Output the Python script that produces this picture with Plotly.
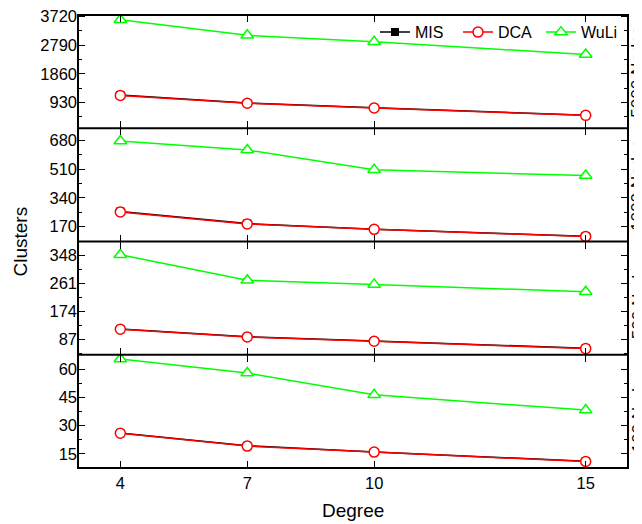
import plotly.graph_objects as go
from plotly.subplots import make_subplots

degrees = [4, 7, 10, 15]
panel_labels = ["5000 Nodes", "1000 Nodes", "500 Nodes", "100 Nodes"]

mis_5000 = [1170, 915, 760, 520]
dca_5000 = [1160, 907, 753, 513]
wuli_5000 = [3608, 3106, 2899, 2482]

mis_1000 = [259, 188, 155, 113]
dca_1000 = [257, 186, 154, 112]
wuli_1000 = [677, 623, 506, 472]

mis_500 = [120, 96, 83, 60]
dca_500 = [119, 95, 82, 59]
wuli_500 = [350, 271, 258, 235]

mis_100 = [26.1, 19.3, 16.0, 11.0]
dca_100 = [25.9, 19.1, 15.9, 10.9]
wuli_100 = [65.3, 57.9, 46.3, 38.2]

yticks_5000 = [930, 1860, 2790, 3720]
yticks_1000 = [170, 340, 510, 680]
yticks_500 = [87, 174, 261, 348]
yticks_100 = [15, 30, 45, 60]

yranges = [[96, 3763], [82, 752], [40, 391], [7.45, 67.6]]

panels = [
    (mis_5000, dca_5000, wuli_5000, yticks_5000),
    (mis_1000, dca_1000, wuli_1000, yticks_1000),
    (mis_500, dca_500, wuli_500, yticks_500),
    (mis_100, dca_100, wuli_100, yticks_100),
]

FONT = "Arial, Liberation Sans, sans-serif"

fig = make_subplots(rows=4, cols=1, shared_xaxes=True, vertical_spacing=0)

for i, (mis, dca, wuli, yt) in enumerate(panels):
    row = i + 1
    show = (i == 0)
    fig.add_trace(go.Scatter(
        x=degrees, y=mis, mode="lines+markers", name="MIS",
        line=dict(color="black", width=1.5),
        marker=dict(symbol="square", size=8, color="black"),
        showlegend=show, legendgroup="MIS"), row=row, col=1)
    fig.add_trace(go.Scatter(
        x=degrees, y=dca, mode="lines+markers", name="DCA",
        line=dict(color="#ff0000", width=1.5),
        marker=dict(symbol="circle", size=10, color="white",
                    line=dict(color="#ff0000", width=1.5)),
        showlegend=show, legendgroup="DCA"), row=row, col=1)
    fig.add_trace(go.Scatter(
        x=degrees, y=wuli, mode="lines+markers", name="WuLi",
        line=dict(color="#00ff00", width=1.5),
        marker=dict(symbol="triangle-up", size=11, color="white",
                    line=dict(color="#00ff00", width=1.5)),
        showlegend=show, legendgroup="WuLi"), row=row, col=1)

    step = yt[1] - yt[0]
    minor_vals = [v - step / 2 for v in yt] + [yt[-1] + step / 2]
    fig.update_yaxes(
        range=yranges[i], tickmode="array", tickvals=yt,
        ticks="inside", ticklen=7, tickwidth=1.3, tickcolor="black",
        showline=False, mirror="ticks",
        showgrid=False, zeroline=False, automargin=False,
        ticklabeloverflow="allow",
        tickfont=dict(family=FONT, size=16.5, color="black"),
        minor=dict(tickmode="array", tickvals=minor_vals, ticks="inside",
                   ticklen=4, tickwidth=1.3, tickcolor="black", showgrid=False),
        row=row, col=1)
    fig.update_xaxes(
        range=[3, 16], tickmode="array", tickvals=degrees,
        ticks="inside", ticklen=7, tickwidth=1.3, tickcolor="black",
        showline=False, mirror="ticks",
        showgrid=False, zeroline=False, automargin=False,
        showticklabels=(row == 4),
        ticklabelstandoff=3,
        ticklabeloverflow="allow",
        tickfont=dict(family=FONT, size=16.5, color="black"),
        row=row, col=1)

# frame and panel dividers
fig.add_shape(type="rect", xref="paper", yref="paper", x0=0, x1=1, y0=0, y1=1,
              line=dict(color="black", width=2), layer="above")
for i in range(1, 4):
    yd = fig.layout["yaxis" + str(i + 1)].domain
    fig.add_shape(type="line", xref="paper", yref="paper", x0=0, x1=1,
                  y0=yd[1], y1=yd[1], line=dict(color="black", width=2),
                  layer="above")

# right-side panel labels
for i, lab in enumerate(panel_labels):
    yd = fig.layout["yaxis" + ("" if i == 0 else str(i + 1))].domain
    fig.add_annotation(
        text=lab, textangle=-90, xref="paper", yref="paper",
        x=1, xshift=10, xanchor="center",
        y=(yd[0] + yd[1]) / 2, yanchor="middle",
        showarrow=False, font=dict(family=FONT, size=17, color="black"))

fig.add_annotation(text="Clusters", textangle=-90, xref="paper", yref="paper",
                   x=0, xshift=-58, xanchor="center", y=0.5, yanchor="middle",
                   showarrow=False, font=dict(family=FONT, size=19, color="black"))
fig.add_annotation(text="Degree", xref="paper", yref="paper",
                   x=0.5, y=0, yshift=-42, xanchor="center", yanchor="middle",
                   showarrow=False, font=dict(family=FONT, size=19, color="black"))

fig.update_layout(
    width=634, height=516,
    margin=dict(l=70.3, r=13.7, t=6.7, b=55.7, autoexpand=False),
    paper_bgcolor="white", plot_bgcolor="white",
    font=dict(family=FONT, color="black"),
    legend=dict(orientation="h", x=0.54, xanchor="left", y=0.962, yanchor="middle",
                bgcolor="rgba(0,0,0,0)", font=dict(family=FONT, size=16),
                entrywidth=38, tracegroupgap=0),
    showlegend=True,
)

fig.write_html("out.html")
